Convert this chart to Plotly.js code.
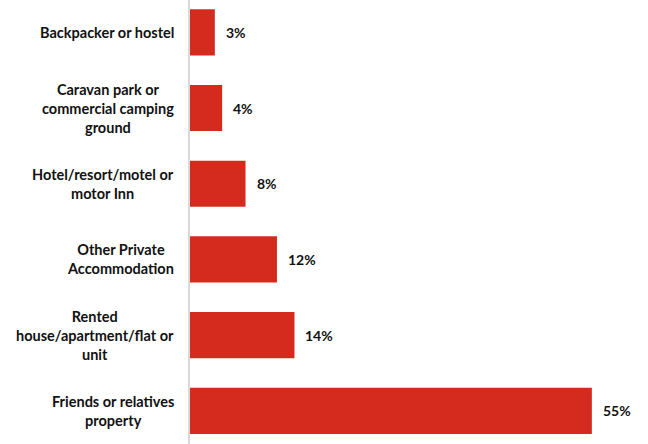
<!DOCTYPE html>
<html>
<head>
<meta charset="utf-8">
<script src="https://cdn.plot.ly/plotly-3.0.1.min.js"></script>
<style>html,body{margin:0;padding:0;background:#fff;}#chart{width:648px;height:444px;}</style>
</head>
<body>
<div id="chart"></div>
<script>
// Bottom-to-top order
const categories = [
  "Friends or relatives<br>property",
  "Rented<br>house/apartment/flat or<br>unit",
  "Other Private<br>Accommodation",
  "Hotel/resort/motel or<br>motor Inn",
  "Caravan park or<br>commercial camping<br>ground",
  "Backpacker or hostel"
];
const values = [55, 14.3, 11.9, 7.6, 4.4, 3.4];
const valueLabels = ["55%", "14%", "12%", "8%", "4%", "3%"];

const font = "Lato, 'Open Sans', sans-serif";

const trace = {
  type: "bar",
  orientation: "h",
  y: categories,
  x: values,
  marker: {color: "#d52b1e", line: {width: 0}},
  width: 0.61,
  hoverinfo: "none"
};

const valueAnns = values.map((v, i) => ({
  x: v, y: categories[i], xref: "x", yref: "y",
  text: "<b>" + valueLabels[i] + "</b>",
  showarrow: false, xanchor: "left", xshift: 9,
  font: {family: font, size: 14, color: "#111"}
}));

const catAnns = categories.map((c, i) => ({
  x: 0, y: c, xref: "paper", yref: "y",
  text: "<b>" + c + "</b>",
  showarrow: false, xanchor: "right", align: "center", xshift: -14,
  font: {family: font, size: 14.5, color: "#111"}
}));

const layout = {
  width: 648, height: 444,
  margin: {l: 190, r: 5, t: 0, b: 0, pad: 0},
  paper_bgcolor: "#fff", plot_bgcolor: "#fff",
  showlegend: false,
  xaxis: {range: [0, 62], showgrid: false, zeroline: false, showticklabels: false, showline: false, fixedrange: true},
  yaxis: {
    type: "category", range: [-0.4386, 5.427],
    showgrid: false, zeroline: false,
    showline: true, linecolor: "#d9d9d9", linewidth: 2,
    ticks: "", showticklabels: false,
    fixedrange: true
  },
  annotations: catAnns.concat(valueAnns)
};

Plotly.newPlot("chart", [trace], layout, {displayModeBar: false, staticPlot: true});
</script>
</body>
</html>
